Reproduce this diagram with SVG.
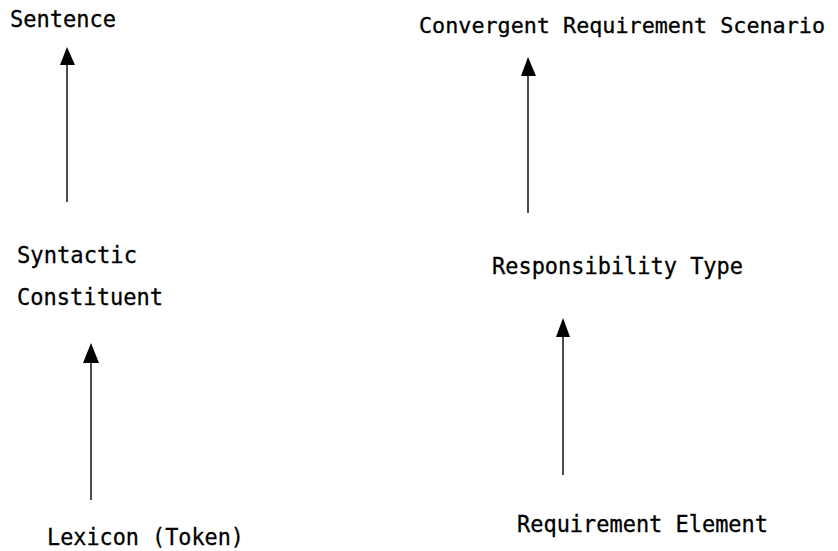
<svg xmlns="http://www.w3.org/2000/svg" width="838" height="551" viewBox="0 0 838 551">
<defs>
<style>
text{font-family:"DejaVu Sans Mono","Liberation Mono",monospace;font-size:23px;fill:#000;stroke:#000;stroke-width:0.3}
.c line{stroke:#000;stroke-width:1.4}
.c polygon{fill:#000}
</style>
</defs>
<rect width="838" height="551" fill="#fff"/>
<g id="n-sentence"><text x="10" y="27" textLength="106" lengthAdjust="spacingAndGlyphs">Sentence</text></g>
<g id="n-convergent"><text x="419" y="33" style="font-size:21.5px" textLength="406" lengthAdjust="spacingAndGlyphs">Convergent Requirement Scenario</text></g>
<g id="n-syntactic"><text x="17" y="263" textLength="120" lengthAdjust="spacingAndGlyphs">Syntactic</text><text x="17" y="305" textLength="146" lengthAdjust="spacingAndGlyphs">Constituent</text></g>
<g id="n-lexicon"><text x="47" y="545" textLength="197" lengthAdjust="spacingAndGlyphs">Lexicon (Token)</text></g>
<g id="n-responsibility"><text x="492" y="274" textLength="251" lengthAdjust="spacingAndGlyphs">Responsibility Type</text></g>
<g id="n-requirement"><text x="517" y="532" textLength="251" lengthAdjust="spacingAndGlyphs">Requirement Element</text></g>
<g id="connectors" class="c">
<line x1="67" y1="202" x2="67" y2="62"/><polygon points="67,47 60,65 75,65"/>
<line x1="528" y1="213" x2="528" y2="73"/><polygon points="528,57 521,76 536,76"/>
<line x1="91" y1="500" x2="91" y2="360"/><polygon points="91,343 83,363 99,363"/>
<line x1="563" y1="475" x2="563" y2="334"/><polygon points="563,318 556,337 570,337"/>
</g>
</svg>
